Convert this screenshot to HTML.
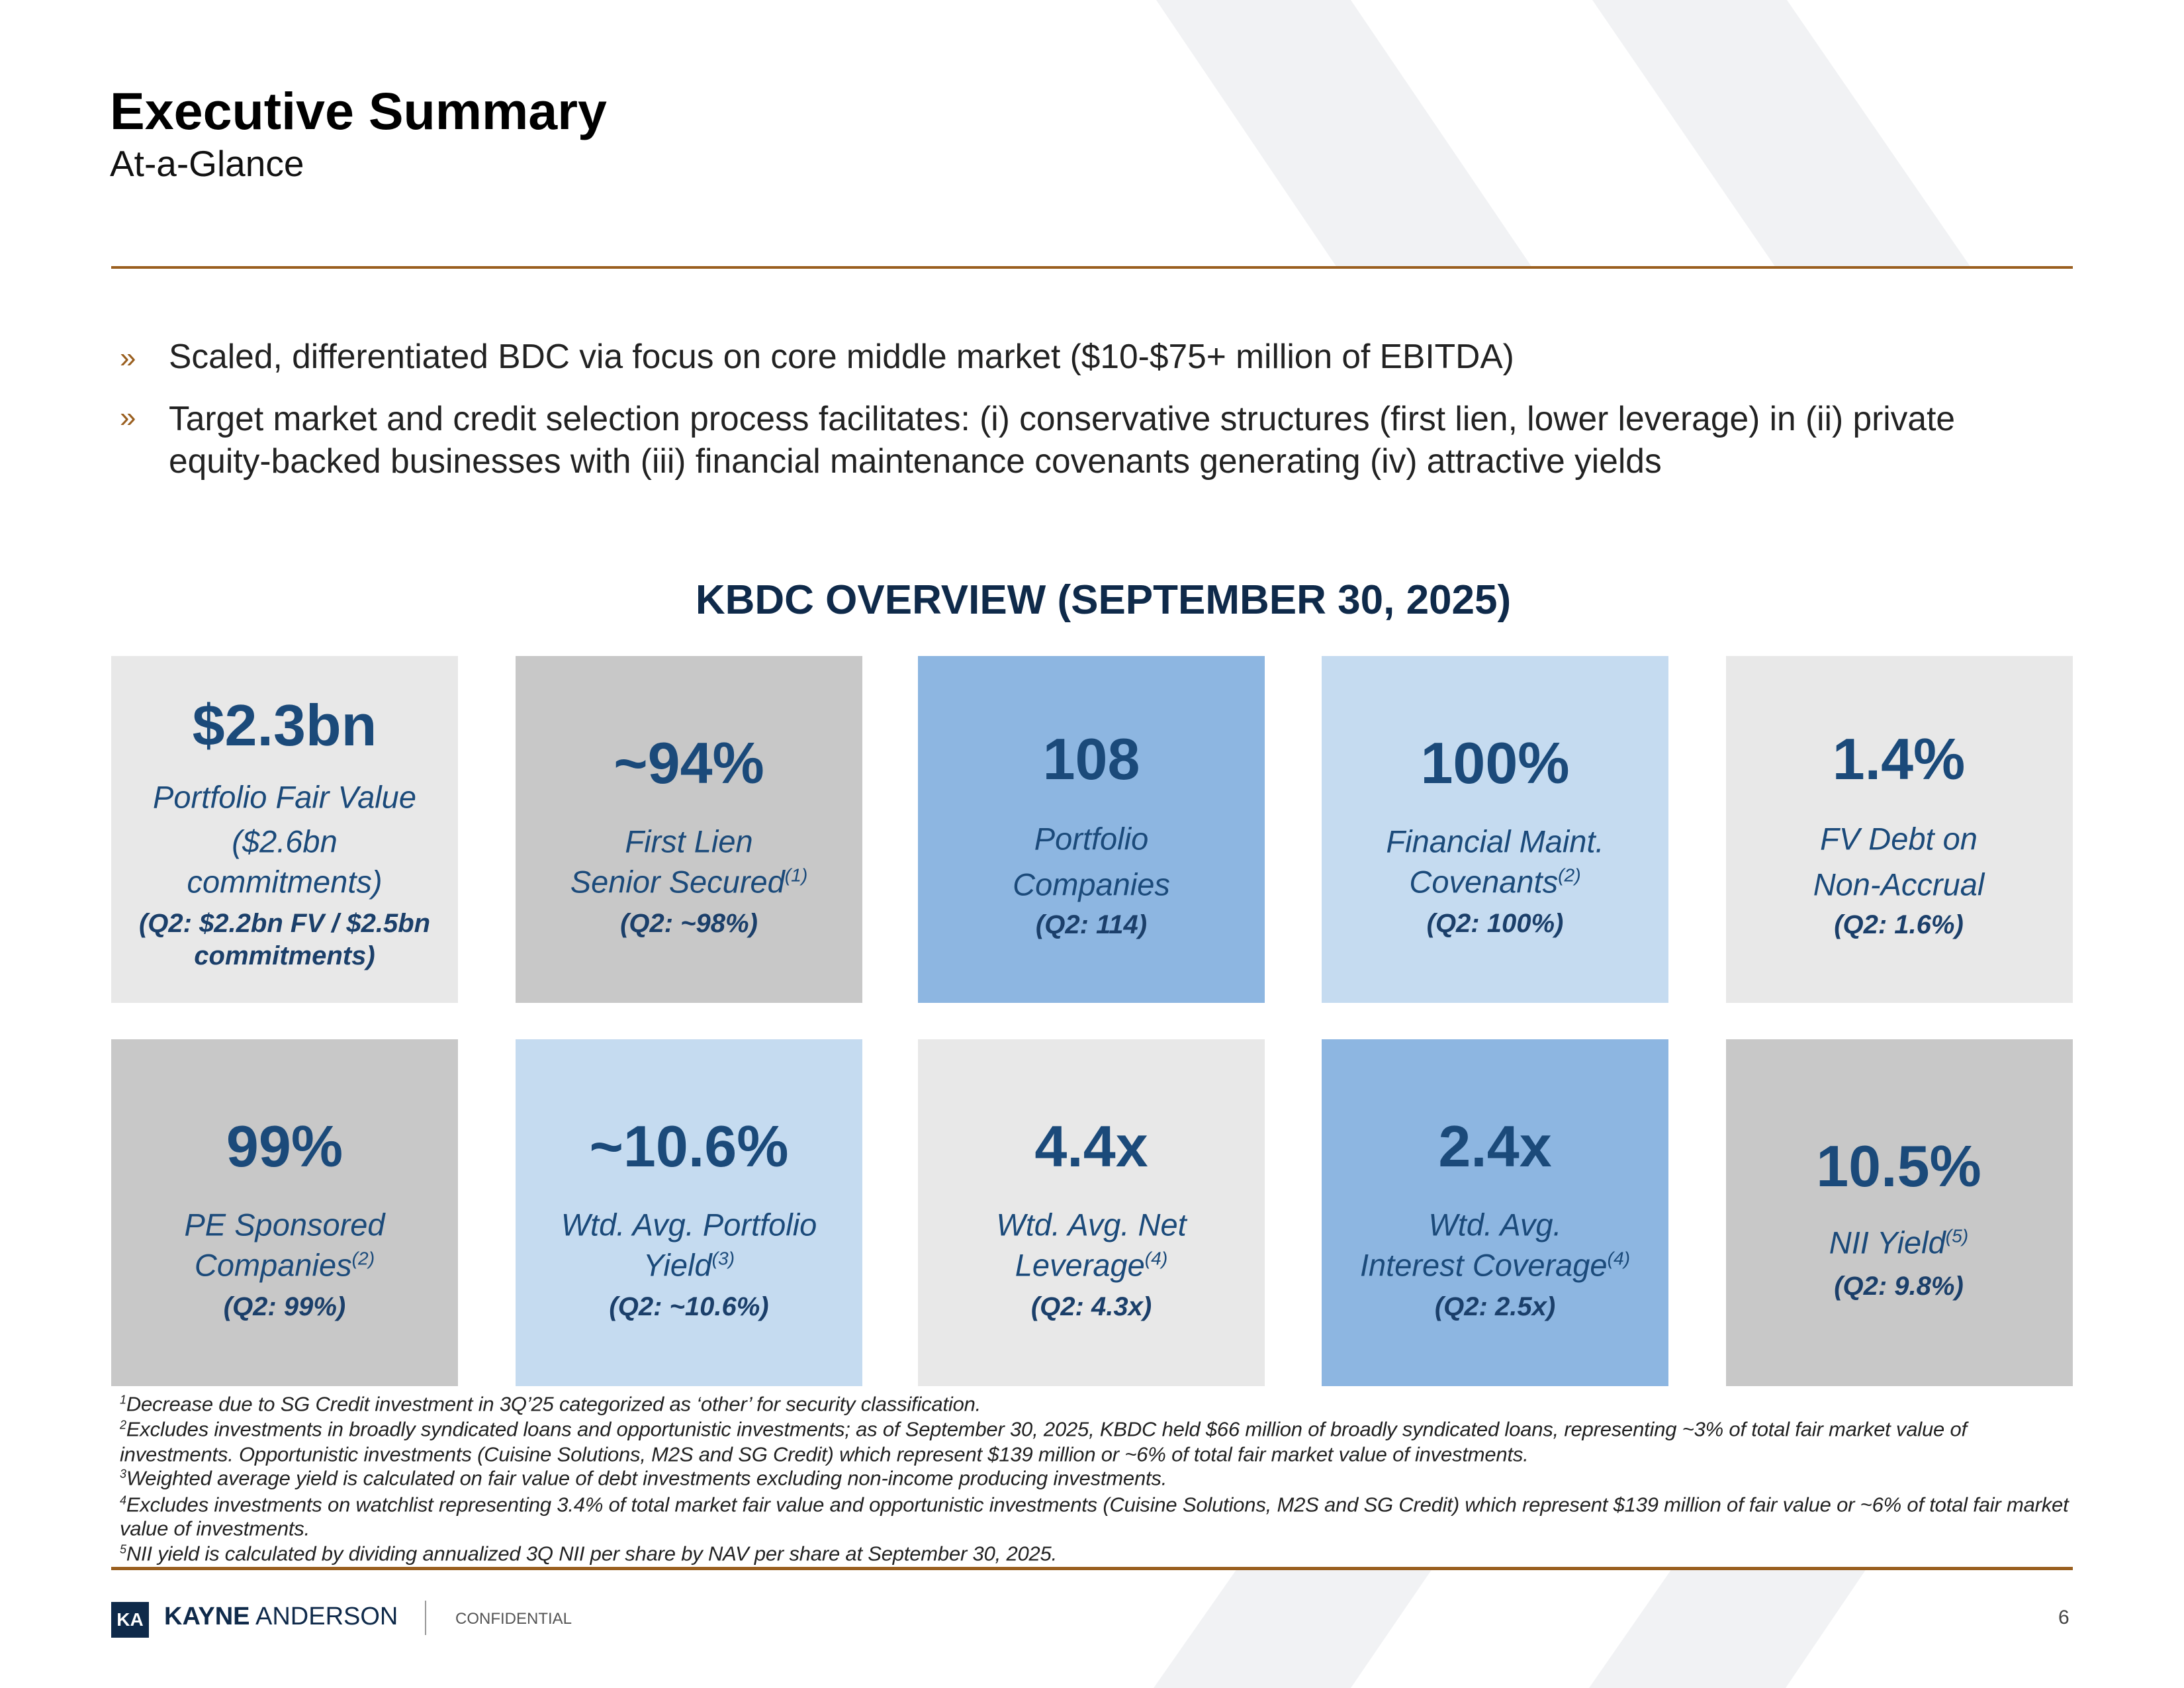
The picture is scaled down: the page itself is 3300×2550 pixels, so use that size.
<!DOCTYPE html>
<html><head><meta charset="utf-8">
<style>
*{margin:0;padding:0;box-sizing:border-box}
body{width:3300px;height:2550px;position:relative;background:#fff;font-family:"Liberation Sans",sans-serif;overflow:hidden}
.abs{position:absolute}
.t{position:absolute;transform:translate(-50%,-50%);white-space:nowrap;text-align:center;line-height:1}
.big{font-weight:bold;font-size:88px;color:#1b4a7a}
.sub{font-style:italic;font-size:47px;color:#1b4a7a}
.q{font-style:italic;font-weight:bold;font-size:40px;color:#1b3f6a}
.box{position:absolute;width:524px;height:524px}
.fn{position:absolute;left:181px;font-style:italic;font-size:31px;color:#222;white-space:nowrap;letter-spacing:-0.2px;line-height:1;transform:translateY(-50%)}
.fn sup{font-size:18px}
sup{font-size:0.6em;vertical-align:0.6em;line-height:0}
</style></head><body>
<svg class="abs" style="left:0;top:0" width="3300" height="2550">
<polygon points="1747,0 2041,0 2315,404 2020,404" fill="#f1f2f4"/>
<polygon points="2406,0 2700,0 2978,404 2683,404" fill="#f1f2f4"/>
<polygon points="1869,2370 2164,2370 2041,2550 1743,2550" fill="#f1f2f4"/>
<polygon points="2526,2370 2820,2370 2698,2550 2401,2550" fill="#f1f2f4"/>
</svg>
<div class="abs" style="left:166px;top:128px;font-size:79px;font-weight:bold;color:#000;line-height:1">Executive Summary</div>
<div class="abs" style="left:166px;top:220px;font-size:55px;color:#111;line-height:1">At-a-Glance</div>
<div class="abs" style="left:168px;top:402px;width:2964px;height:4px;background:#9a5f1f"></div>

<div>
<div class="abs" style="left:181px;top:519px;font-size:44px;color:#9a5f1f;line-height:1">»</div>
<div class="abs" style="left:255px;top:513px;font-size:51.5px;color:#222;line-height:1;white-space:nowrap">Scaled, differentiated BDC via focus on core middle market ($10-$75+ million of EBITDA)</div>
<div class="abs" style="left:181px;top:609px;font-size:44px;color:#9a5f1f;line-height:1">»</div>
<div class="abs" style="left:255px;top:600px;font-size:51.5px;color:#222;line-height:64px;white-space:nowrap">Target market and credit selection process facilitates: (i) conservative structures (first lien, lower leverage) in (ii) private<br>equity-backed businesses with (iii) financial maintenance covenants generating (iv) attractive yields</div>
</div>

<div class="t" style="left:1667px;top:907px;font-size:62px;font-weight:bold;color:#0f2a4a">KBDC OVERVIEW (SEPTEMBER 30, 2025)</div>

<div class="box" style="left:168px;top:991px;background:#e8e8e8"></div>
<div class="box" style="left:779px;top:991px;background:#c8c8c8"></div>
<div class="box" style="left:1387px;top:991px;background:#8db6e1"></div>
<div class="box" style="left:1997px;top:991px;background:#c5dbf0"></div>
<div class="box" style="left:2608px;top:991px;background:#e8e8e8"></div>
<div class="box" style="left:168px;top:1570px;background:#c8c8c8"></div>
<div class="box" style="left:779px;top:1570px;background:#c5dbf0"></div>
<div class="box" style="left:1387px;top:1570px;background:#e8e8e8"></div>
<div class="box" style="left:1997px;top:1570px;background:#8db6e1"></div>
<div class="box" style="left:2608px;top:1570px;background:#c8c8c8"></div>

<div class="t big" style="left:430px;top:1096px">$2.3bn</div>
<div class="t sub" style="left:430px;top:1204px">Portfolio Fair Value</div>
<div class="t sub" style="left:430px;top:1271px">($2.6bn</div>
<div class="t sub" style="left:430px;top:1332px">commitments)</div>
<div class="t q" style="left:430px;top:1395px">(Q2: $2.2bn FV / $2.5bn</div>
<div class="t q" style="left:430px;top:1444px">commitments)</div>

<div class="t big" style="left:1041px;top:1153px">~94%</div>
<div class="t sub" style="left:1041px;top:1271px">First Lien</div>
<div class="t sub" style="left:1041px;top:1332px">Senior Secured<sup>(1)</sup></div>
<div class="t q" style="left:1041px;top:1395px">(Q2: ~98%)</div>

<div class="t big" style="left:1649px;top:1147px">108</div>
<div class="t sub" style="left:1649px;top:1267px">Portfolio</div>
<div class="t sub" style="left:1649px;top:1336px">Companies</div>
<div class="t q" style="left:1649px;top:1397px">(Q2: 114)</div>

<div class="t big" style="left:2259px;top:1153px">100%</div>
<div class="t sub" style="left:2259px;top:1271px">Financial Maint.</div>
<div class="t sub" style="left:2259px;top:1332px">Covenants<sup>(2)</sup></div>
<div class="t q" style="left:2259px;top:1395px">(Q2: 100%)</div>

<div class="t big" style="left:2869px;top:1147px">1.4%</div>
<div class="t sub" style="left:2869px;top:1267px">FV Debt on</div>
<div class="t sub" style="left:2869px;top:1336px">Non-Accrual</div>
<div class="t q" style="left:2869px;top:1397px">(Q2: 1.6%)</div>

<div class="t big" style="left:430px;top:1732px">99%</div>
<div class="t sub" style="left:430px;top:1850px">PE Sponsored</div>
<div class="t sub" style="left:430px;top:1911px">Companies<sup>(2)</sup></div>
<div class="t q" style="left:430px;top:1974px">(Q2: 99%)</div>

<div class="t big" style="left:1041px;top:1732px">~10.6%</div>
<div class="t sub" style="left:1041px;top:1850px">Wtd. Avg. Portfolio</div>
<div class="t sub" style="left:1041px;top:1911px">Yield<sup>(3)</sup></div>
<div class="t q" style="left:1041px;top:1974px">(Q2: ~10.6%)</div>

<div class="t big" style="left:1649px;top:1732px">4.4x</div>
<div class="t sub" style="left:1649px;top:1850px">Wtd. Avg. Net</div>
<div class="t sub" style="left:1649px;top:1911px">Leverage<sup>(4)</sup></div>
<div class="t q" style="left:1649px;top:1974px">(Q2: 4.3x)</div>

<div class="t big" style="left:2259px;top:1732px">2.4x</div>
<div class="t sub" style="left:2259px;top:1850px">Wtd. Avg.</div>
<div class="t sub" style="left:2259px;top:1911px">Interest Coverage<sup>(4)</sup></div>
<div class="t q" style="left:2259px;top:1974px">(Q2: 2.5x)</div>

<div class="t big" style="left:2869px;top:1762px">10.5%</div>
<div class="t sub" style="left:2869px;top:1877px">NII Yield<sup>(5)</sup></div>
<div class="t q" style="left:2869px;top:1943px">(Q2: 9.8%)</div>

<div>
<div class="fn" style="top:2121px"><sup>1</sup>Decrease due to SG Credit investment in 3Q’25 categorized as ‘other’ for security classification.</div>
<div class="fn" style="top:2159px"><sup>2</sup>Excludes investments in broadly syndicated loans and opportunistic investments; as of September 30, 2025, KBDC held $66 million of broadly syndicated loans, representing ~3% of total fair market value of</div>
<div class="fn" style="top:2197px">investments. Opportunistic investments (Cuisine Solutions, M2S and SG Credit) which represent $139 million or ~6% of total fair market value of investments.</div>
<div class="fn" style="top:2233px"><sup>3</sup>Weighted average yield is calculated on fair value of debt investments excluding non-income producing investments.</div>
<div class="fn" style="top:2273px"><sup>4</sup>Excludes investments on watchlist representing 3.4% of total market fair value and opportunistic investments (Cuisine Solutions, M2S and SG Credit) which represent $139 million of fair value or ~6% of total fair market</div>
<div class="fn" style="top:2309px">value of investments.</div>
<div class="fn" style="top:2347px"><sup>5</sup>NII yield is calculated by dividing annualized 3Q NII per share by NAV per share at September 30, 2025.</div>
</div>

<div class="abs" style="left:168px;top:2367px;width:2964px;height:5px;background:#9a5f1f"></div>
<div class="abs" style="left:168px;top:2420px;width:57px;height:54px;background:#0f2a4a;color:#fff;font-size:28px;font-weight:bold;text-align:center;line-height:54px">KA</div>
<div class="abs" style="left:248px;top:2423px;font-size:38px;color:#0f2a4a;line-height:1;white-space:nowrap"><b>KAYNE</b> ANDERSON</div>
<div class="abs" style="left:642px;top:2418px;width:2px;height:52px;background:#999"></div>
<div class="abs" style="left:688px;top:2434px;font-size:24px;color:#555;line-height:1">CONFIDENTIAL</div>
<div class="abs" style="left:3110px;top:2429px;font-size:30px;color:#444;line-height:1">6</div>
</body></html>
